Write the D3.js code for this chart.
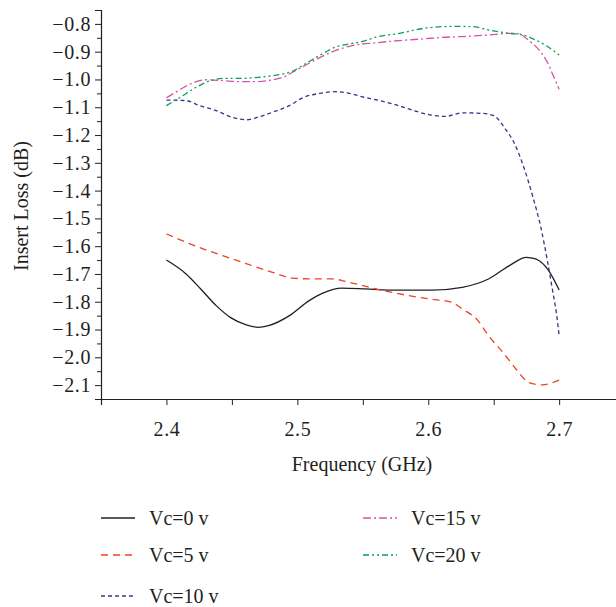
<!DOCTYPE html>
<html>
<head>
<meta charset="utf-8">
<script src="https://cdn.jsdelivr.net/npm/d3@7"></script>
<style>
  html, body { margin: 0; padding: 0; background: #fff; overflow: hidden; }
  svg { display: block; font-family: "Liberation Serif", "Times New Roman", serif; }
</style>
</head>
<body>
<svg id="chart" width="616" height="607"></svg>
<script>
// Series values (frequency in GHz, insert loss in dB)
var vc0Freq  = [2.400, 2.415, 2.426, 2.438, 2.449, 2.461, 2.470, 2.478, 2.494, 2.509, 2.519, 2.534, 2.552, 2.570, 2.603, 2.626, 2.646, 2.662, 2.675, 2.682, 2.692, 2.700];
var vc0Loss  = [-1.650, -1.700, -1.753, -1.814, -1.857, -1.883, -1.892, -1.886, -1.850, -1.796, -1.770, -1.751, -1.754, -1.758, -1.758, -1.748, -1.718, -1.670, -1.640, -1.646, -1.688, -1.758];

var vc5Freq  = [2.400, 2.412, 2.428, 2.443, 2.458, 2.468, 2.481, 2.496, 2.512, 2.527, 2.537, 2.550, 2.560, 2.575, 2.601, 2.618, 2.626, 2.638, 2.646, 2.657, 2.667, 2.677, 2.687, 2.700];
var vc5Loss  = [-1.556, -1.580, -1.610, -1.634, -1.658, -1.674, -1.694, -1.715, -1.718, -1.718, -1.727, -1.742, -1.754, -1.769, -1.790, -1.802, -1.826, -1.868, -1.922, -1.982, -2.042, -2.091, -2.099, -2.082];

var vc10Freq = [2.400, 2.415, 2.425, 2.438, 2.450, 2.461, 2.471, 2.481, 2.494, 2.504, 2.517, 2.528, 2.540, 2.551, 2.560, 2.573, 2.585, 2.598, 2.613, 2.626, 2.641, 2.650, 2.658, 2.666, 2.673, 2.680, 2.686, 2.691, 2.695, 2.698, 2.700];
var vc10Loss = [-1.074, -1.076, -1.094, -1.112, -1.136, -1.145, -1.134, -1.118, -1.094, -1.066, -1.050, -1.044, -1.050, -1.064, -1.073, -1.088, -1.106, -1.124, -1.133, -1.120, -1.122, -1.130, -1.172, -1.232, -1.316, -1.424, -1.532, -1.652, -1.760, -1.844, -1.922];

var vc15Freq = [2.400, 2.407, 2.417, 2.430, 2.443, 2.456, 2.468, 2.478, 2.489, 2.501, 2.514, 2.527, 2.542, 2.560, 2.578, 2.596, 2.613, 2.629, 2.646, 2.662, 2.669, 2.677, 2.685, 2.691, 2.696, 2.700];
var vc15Loss = [-1.066, -1.046, -1.019, -1.001, -1.004, -1.008, -1.008, -1.004, -0.992, -0.962, -0.929, -0.900, -0.878, -0.868, -0.860, -0.854, -0.848, -0.845, -0.840, -0.834, -0.836, -0.860, -0.896, -0.938, -0.992, -1.035];

var vc20Freq = [2.400, 2.410, 2.422, 2.434, 2.445, 2.458, 2.471, 2.484, 2.496, 2.506, 2.519, 2.529, 2.540, 2.550, 2.560, 2.578, 2.598, 2.619, 2.634, 2.646, 2.662, 2.672, 2.680, 2.690, 2.700];
var vc20Loss = [-1.094, -1.066, -1.030, -1.004, -0.996, -0.996, -0.992, -0.984, -0.971, -0.944, -0.908, -0.884, -0.872, -0.863, -0.848, -0.834, -0.815, -0.809, -0.810, -0.822, -0.834, -0.839, -0.854, -0.878, -0.912];

var seriesNames = ["Vc=0 v", "Vc=5 v", "Vc=10 v", "Vc=15 v", "Vc=20 v"];
var xTicks = [2.4, 2.5, 2.6, 2.7];
var yTicks = [-0.8, -0.9, -1.0, -1.1, -1.2, -1.3, -1.4, -1.5, -1.6, -1.7, -1.8, -1.9, -2.0, -2.1];

var series = [
    { name: seriesNames[0], freq: vc0Freq,  loss: vc0Loss,  color: "#231f20", dash: null },
    { name: seriesNames[1], freq: vc5Freq,  loss: vc5Loss,  color: "#ef4123", dash: "7,5" },
    { name: seriesNames[2], freq: vc10Freq, loss: vc10Loss, color: "#35358f", dash: "4,3" },
    { name: seriesNames[3], freq: vc15Freq, loss: vc15Loss, color: "#d454a8", dash: "8,3,2,3" },
    { name: seriesNames[4], freq: vc20Freq, loss: vc20Loss, color: "#0d9e56", dash: "6,3,2,3,2,3" }
];

var axisColor = "#231f20";

// Scales (the x axis runs past the right edge of the picture)
var x = d3.scaleLinear().domain([2.35, 2.75]).range([101, 624.6]);
var y = d3.scaleLinear().domain([-2.15, -0.75]).range([399, 10]);

var svg = d3.select("#chart");

// Lines
var line = d3.line()
    .x(function(d) { return x(d[0]); })
    .y(function(d) { return y(d[1]); })
    .curve(d3.curveMonotoneX);

svg.append("g").selectAll("path")
    .data(series)
    .enter().append("path")
    .attr("d", function(s) { return line(d3.zip(s.freq, s.loss)); })
    .attr("fill", "none")
    .attr("stroke", function(s) { return s.color; })
    .attr("stroke-width", 1.3)
    .attr("stroke-dasharray", function(s) { return s.dash; });

// Y axis with minor ticks
var yMinor = d3.range(-2.15, -0.75, 0.1).map(function(v) { return +v.toFixed(2); });

var yAxisG = svg.append("g")
    .attr("transform", "translate(101,0)")
    .call(d3.axisLeft(y).tickValues(yTicks).tickFormat(d3.format(".1f")).tickSize(6).tickPadding(4));

svg.append("g")
    .attr("transform", "translate(101,0)")
    .call(d3.axisLeft(y).tickValues(yMinor).tickFormat("").tickSize(4))
    .select(".domain").remove();

// X axis with minor ticks
var xMinor = [2.35, 2.45, 2.55, 2.65];

var xAxisG = svg.append("g")
    .attr("transform", "translate(0,399)")
    .call(d3.axisBottom(x).tickValues(xTicks).tickFormat(d3.format(".1f")).tickSize(6).tickPadding(17));

svg.append("g")
    .attr("transform", "translate(0,399)")
    .call(d3.axisBottom(x).tickValues(xMinor).tickFormat("").tickSize(6))
    .select(".domain").remove();

svg.selectAll(".domain").attr("stroke", axisColor).attr("stroke-width", 1.2);
svg.selectAll(".tick line").attr("stroke", axisColor).attr("stroke-width", 1);
svg.selectAll(".tick text")
    .attr("fill", axisColor)
    .style("font-family", "'Liberation Serif', serif")
    .style("font-size", "20px")
    .style("letter-spacing", "0.6px");

// Axis titles
svg.append("text")
    .attr("x", 362)
    .attr("y", 471)
    .attr("text-anchor", "middle")
    .attr("fill", axisColor)
    .style("font-size", "20px")
    .text("Frequency (GHz)");

svg.append("text")
    .attr("transform", "rotate(-90)")
    .attr("x", -206)
    .attr("y", 28)
    .attr("text-anchor", "middle")
    .attr("fill", axisColor)
    .style("font-size", "20px")
    .text("Insert Loss (dB)");

// Legend: two columns, three rows
var legendPos = [[101, 518], [101, 555], [101, 596], [363, 518], [363, 555]];

var legend = svg.append("g").selectAll("g")
    .data(series)
    .enter().append("g")
    .attr("transform", function(s, i) { return "translate(" + legendPos[i][0] + "," + legendPos[i][1] + ")"; });

legend.append("line")
    .attr("x1", 0).attr("x2", 34)
    .attr("y1", 0).attr("y2", 0)
    .attr("stroke", function(s) { return s.color; })
    .attr("stroke-width", 1.3)
    .attr("stroke-dasharray", function(s) { return s.dash; });

legend.append("text")
    .attr("x", 48)
    .attr("y", 7)
    .attr("fill", axisColor)
    .style("font-size", "20px")
    .text(function(s) { return s.name; });
</script>
</body>
</html>
